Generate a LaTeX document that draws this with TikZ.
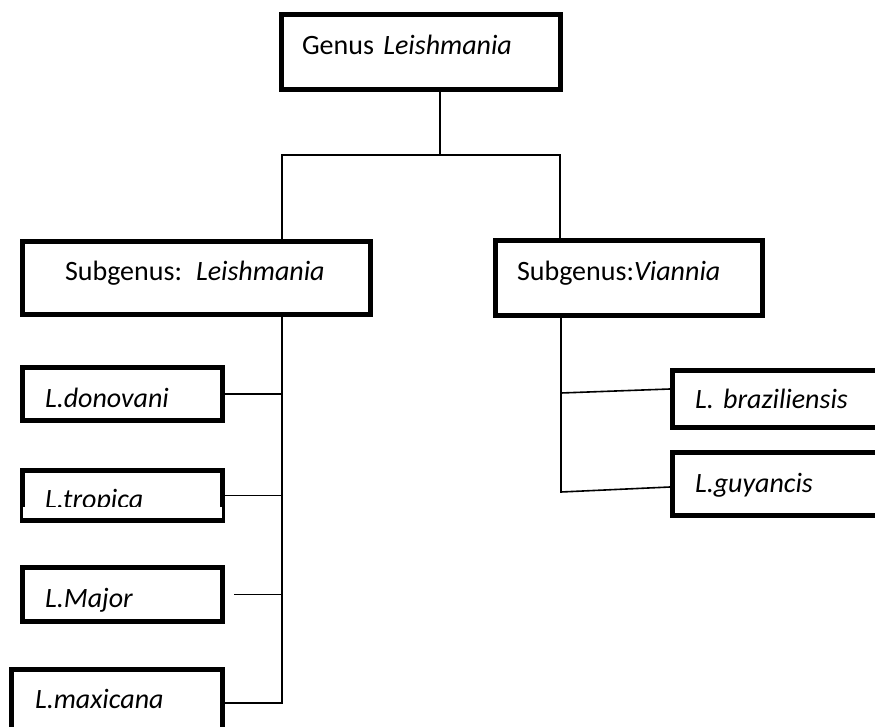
\documentclass[tikz,border=0pt]{standalone}
\usepackage{fontspec}
\setmainfont{Carlito}
\usetikzlibrary{positioning}

\begin{document}
\begin{tikzpicture}[
  x=1pt,y=-1pt,
  taxbox/.style={draw,rectangle,line width=5pt,inner ysep=0pt,align=left,
    font=\fontsize{28}{32}\selectfont},
  leaf/.style={taxbox,minimum width=200pt,text width=155pt,inner xsep=22.5pt},
  txt/.style 2 args={text height=#1,text depth=#2},
  link/.style={line width=1.6pt}
]
\useasboundingbox (0,0) rectangle (875,727);
\clip (0,0) rectangle (875,727);

\node[taxbox,minimum width=279pt,minimum height=75pt,text width=238pt,inner xsep=20.5pt,txt={17pt}{11pt}] (genus) at (421,52) {Genus \textit{Leishmania}};

\node[taxbox,minimum width=348pt,minimum height=73pt,text width=305pt,inner xsep=21.5pt,txt={17pt}{13pt}] (subL) at (196.5,278) {\hspace*{21pt}Subgenus: \textit{Leishmania}};
\node[taxbox,minimum width=267pt,minimum height=75pt,text width=224pt,inner xsep=21.5pt,txt={17pt}{13pt}] (subV) at (629,278) {Subgenus:\textit{Viannia}};

\node[leaf,minimum height=53pt,txt={26pt}{0pt}] (donovani) at (122.5,394) {\textit{L.donovani}};
\node[leaf,minimum height=50pt,txt={25pt}{0pt}] (tropica) at (122.5,495.5) {\textit{L.tropica}};
\node[leaf,minimum height=54pt,txt={25pt}{0pt}] (major) at (122.5,594.5) {\textit{L.Major}};
\node[leaf,minimum width=211pt,text width=164pt,inner xsep=23.5pt,minimum height=67pt,txt={17pt}{7pt}] (maxicana) at (117,703) {\textit{L.maxicana}};

\node[leaf,minimum width=207pt,text width=162pt,minimum height=57pt,txt={18pt}{0pt}] (braz) at (776,399) {\textit{L. braziliensis}};
\node[leaf,minimum width=207pt,text width=162pt,minimum height=63pt,txt={17pt}{1pt}] (guyancis) at (776,484) {\textit{L.guyancis}};

% text of L.tropica runs out of its box
\fill[white] (23,507) rectangle (222,518);

\coordinate (split) at (440,155);
\coordinate (lbus) at (282,155);
\coordinate (rbus) at (560,155);
\coordinate (ltrunk) at (282,703);
\coordinate (rtop) at (561,393);
\coordinate (rtrunk) at (561,492);

\draw[link] (genus.south -| split) -- (split);
\draw[link] (subL.north -| lbus) -- (lbus) -- (rbus) -- (subV.north -| rbus);

\draw[link] (subL.south -| ltrunk) -- (ltrunk) -- (maxicana.east);
\draw[link] (donovani.east) -- (donovani.east -| ltrunk);
\draw[link] (tropica.east) -- (tropica.east -| ltrunk);
\draw[link] ([xshift=9pt]major.east) -- (major.east -| ltrunk);

\draw[link] (subV.south -| rtrunk) -- (rtrunk) -- ([yshift=-3pt]guyancis.west);
\draw[link] (rtop) -- ([yshift=10pt]braz.west);

\end{tikzpicture}
\end{document}
